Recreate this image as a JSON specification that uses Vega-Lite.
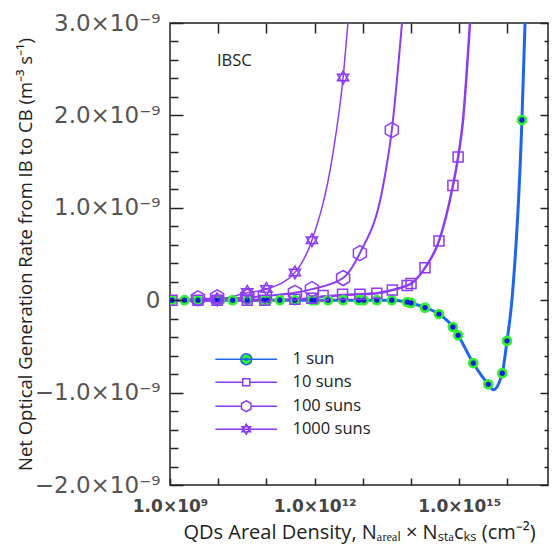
{
  "$schema": "https://vega.github.io/schema/vega-lite/v6.json",
  "width": 378,
  "height": 462,
  "autosize": {"type": "none"},
  "padding": {"left": 170, "top": 23, "right": 7, "bottom": 69},
  "background": "white",
  "datasets": {
    "pts": [
      {"series": "1 sun", "x": 1.1e9, "y": 0},
      {"series": "1 sun", "x": 2.0e9, "y": 0},
      {"series": "1 sun", "x": 3.8e9, "y": 0},
      {"series": "1 sun", "x": 9.0e9, "y": 0},
      {"series": "1 sun", "x": 1.1e10, "y": 0},
      {"series": "1 sun", "x": 2.0e10, "y": 0},
      {"series": "1 sun", "x": 4.0e10, "y": 0},
      {"series": "1 sun", "x": 8.8e10, "y": 0},
      {"series": "1 sun", "x": 1.05e11, "y": 0},
      {"series": "1 sun", "x": 1.9e11, "y": 0},
      {"series": "1 sun", "x": 3.9e11, "y": 0},
      {"series": "1 sun", "x": 8.8e11, "y": 0},
      {"series": "1 sun", "x": 1.05e12, "y": 0},
      {"series": "1 sun", "x": 1.9e12, "y": 0},
      {"series": "1 sun", "x": 3.9e12, "y": 0},
      {"series": "1 sun", "x": 8.2e12, "y": 0},
      {"series": "1 sun", "x": 1.05e13, "y": 0},
      {"series": "1 sun", "x": 1.95e13, "y": 0},
      {"series": "1 sun", "x": 4.0e13, "y": 0},
      {"series": "1 sun", "x": 8.3e13, "y": -2e-11},
      {"series": "1 sun", "x": 1.0e14, "y": -3e-11},
      {"series": "1 sun", "x": 1.95e14, "y": -8e-11},
      {"series": "1 sun", "x": 3.8e14, "y": -1.5e-10},
      {"series": "1 sun", "x": 7.4e14, "y": -2.9e-10},
      {"series": "1 sun", "x": 9.5e14, "y": -3.8e-10},
      {"series": "1 sun", "x": 1.95e15, "y": -6.8e-10},
      {"series": "1 sun", "x": 4.0e15, "y": -9.1e-10},
      {"series": "1 sun", "x": 7.8e15, "y": -7.9e-10},
      {"series": "1 sun", "x": 9.8e15, "y": -4.4e-10},
      {"series": "1 sun", "x": 2.0e16, "y": 1.95e-9},
      {"series": "10 suns", "x": 1.1e9, "y": 0},
      {"series": "10 suns", "x": 3.8e9, "y": 0},
      {"series": "10 suns", "x": 9.5e9, "y": 0},
      {"series": "10 suns", "x": 4.0e10, "y": 0},
      {"series": "10 suns", "x": 9.3e10, "y": 0},
      {"series": "10 suns", "x": 3.9e11, "y": 1e-11},
      {"series": "10 suns", "x": 8.8e11, "y": 2e-11},
      {"series": "10 suns", "x": 1.5e12, "y": 5e-11},
      {"series": "10 suns", "x": 3.8e12, "y": 6.5e-11},
      {"series": "10 suns", "x": 8.7e12, "y": 6.5e-11},
      {"series": "10 suns", "x": 1.95e13, "y": 7.5e-11},
      {"series": "10 suns", "x": 4.1e13, "y": 1.1e-10},
      {"series": "10 suns", "x": 8.3e13, "y": 1.6e-10},
      {"series": "10 suns", "x": 1.0e14, "y": 1.8e-10},
      {"series": "10 suns", "x": 1.95e14, "y": 3.5e-10},
      {"series": "10 suns", "x": 3.8e14, "y": 6.4e-10},
      {"series": "10 suns", "x": 7.4e14, "y": 1.24e-9},
      {"series": "10 suns", "x": 9.5e14, "y": 1.55e-9},
      {"series": "100 suns", "x": 3.8e9, "y": 2e-11},
      {"series": "100 suns", "x": 9.5e9, "y": 3e-11},
      {"series": "100 suns", "x": 4.0e10, "y": 4e-11},
      {"series": "100 suns", "x": 9.3e10, "y": 5e-11},
      {"series": "100 suns", "x": 3.9e11, "y": 8e-11},
      {"series": "100 suns", "x": 8.8e11, "y": 1.2e-10},
      {"series": "100 suns", "x": 3.9e12, "y": 2.4e-10},
      {"series": "100 suns", "x": 8.7e12, "y": 5.1e-10},
      {"series": "100 suns", "x": 4.0e13, "y": 1.84e-9},
      {"series": "1000 suns", "x": 9.5e9, "y": 1e-11},
      {"series": "1000 suns", "x": 4.0e10, "y": 9e-11},
      {"series": "1000 suns", "x": 1.0e11, "y": 1.2e-10},
      {"series": "1000 suns", "x": 3.9e11, "y": 3.0e-10},
      {"series": "1000 suns", "x": 8.8e11, "y": 6.5e-10},
      {"series": "1000 suns", "x": 3.9e12, "y": 2.41e-9}
    ],
    "curve": [
      {"series": "1 sun", "x": 1.0e9, "y": 0},
      {"series": "1 sun", "x": 4.0e13, "y": 0},
      {"series": "1 sun", "x": 8.3e13, "y": -2e-11},
      {"series": "1 sun", "x": 1.0e14, "y": -3e-11},
      {"series": "1 sun", "x": 1.95e14, "y": -8e-11},
      {"series": "1 sun", "x": 3.8e14, "y": -1.5e-10},
      {"series": "1 sun", "x": 7.4e14, "y": -2.9e-10},
      {"series": "1 sun", "x": 9.5e14, "y": -3.8e-10},
      {"series": "1 sun", "x": 1.95e15, "y": -6.8e-10},
      {"series": "1 sun", "x": 4.0e15, "y": -9.1e-10},
      {"series": "1 sun", "x": 5.1e15, "y": -9.7e-10},
      {"series": "1 sun", "x": 7.8e15, "y": -7.9e-10},
      {"series": "1 sun", "x": 9.8e15, "y": -4.4e-10},
      {"series": "1 sun", "x": 1.24e16, "y": 0},
      {"series": "1 sun", "x": 2.0e16, "y": 1.95e-9},
      {"series": "1 sun", "x": 2.32e16, "y": 3.0e-9},
      {"series": "10 suns", "x": 1.0e9, "y": 0},
      {"series": "10 suns", "x": 9.3e10, "y": 0},
      {"series": "10 suns", "x": 3.9e11, "y": 1e-11},
      {"series": "10 suns", "x": 8.8e11, "y": 2e-11},
      {"series": "10 suns", "x": 1.5e12, "y": 4e-11},
      {"series": "10 suns", "x": 3.8e12, "y": 5.5e-11},
      {"series": "10 suns", "x": 8.7e12, "y": 6.5e-11},
      {"series": "10 suns", "x": 1.95e13, "y": 7.5e-11},
      {"series": "10 suns", "x": 4.1e13, "y": 1.1e-10},
      {"series": "10 suns", "x": 8.3e13, "y": 1.6e-10},
      {"series": "10 suns", "x": 1.0e14, "y": 1.8e-10},
      {"series": "10 suns", "x": 1.95e14, "y": 3.5e-10},
      {"series": "10 suns", "x": 3.8e14, "y": 6.4e-10},
      {"series": "10 suns", "x": 7.4e14, "y": 1.24e-9},
      {"series": "10 suns", "x": 9.5e14, "y": 1.55e-9},
      {"series": "10 suns", "x": 1.2e15, "y": 1.95e-9},
      {"series": "10 suns", "x": 1.67e15, "y": 3.0e-9},
      {"series": "100 suns", "x": 1.0e9, "y": 0},
      {"series": "100 suns", "x": 3.8e9, "y": 1e-11},
      {"series": "100 suns", "x": 9.5e9, "y": 2e-11},
      {"series": "100 suns", "x": 4.0e10, "y": 3e-11},
      {"series": "100 suns", "x": 9.3e10, "y": 4.5e-11},
      {"series": "100 suns", "x": 3.9e11, "y": 8e-11},
      {"series": "100 suns", "x": 8.8e11, "y": 1.2e-10},
      {"series": "100 suns", "x": 3.9e12, "y": 2.4e-10},
      {"series": "100 suns", "x": 8.7e12, "y": 5.1e-10},
      {"series": "100 suns", "x": 2.6e13, "y": 1.22e-9},
      {"series": "100 suns", "x": 4.0e13, "y": 1.84e-9},
      {"series": "100 suns", "x": 6.5e13, "y": 3.0e-9},
      {"series": "1000 suns", "x": 1.0e9, "y": 0},
      {"series": "1000 suns", "x": 9.5e9, "y": 1e-11},
      {"series": "1000 suns", "x": 4.0e10, "y": 8e-11},
      {"series": "1000 suns", "x": 1.0e11, "y": 1.2e-10},
      {"series": "1000 suns", "x": 3.9e11, "y": 3.0e-10},
      {"series": "1000 suns", "x": 8.8e11, "y": 6.5e-10},
      {"series": "1000 suns", "x": 2.4e12, "y": 1.59e-9},
      {"series": "1000 suns", "x": 3.9e12, "y": 2.41e-9},
      {"series": "1000 suns", "x": 4.9e12, "y": 3.0e-9}
    ]
  },
  "resolve": {
    "axis": {"x": "independent", "y": "independent"},
    "scale": {"shape": "independent"},
    "legend": {"shape": "independent"}
  },
  "layer": [
    {
      "data": {"name": "curve"},
      "mark": {"type": "line", "interpolate": "monotone", "clip": true},
      "encoding": {
        "x": {
          "field": "x", "type": "quantitative",
          "scale": {"type": "log", "domain": [1e9, 6.95e16], "nice": false},
          "axis": {
            "orient": "bottom", "offset": -7, "domain": false, "grid": false, "zindex": 2,
            "values": [1e9, 1e10, 1e11, 1e12, 1e13, 1e14, 1e15, 1e16],
            "tickSize": 7, "tickColor": "#222", "tickWidth": 1.5,
            "labelExpr": "datum.value == 1e9 ? '1.0×10⁹' : datum.value == 1e12 ? '1.0×10¹²' : datum.value == 1e15 ? '1.0×10¹⁵' : ''",
            "labelFont": "DejaVu Sans", "labelFontSize": 17, "labelFontWeight": "bold", "labelColor": "#444",
            "labelPadding": 13, "labelFlush": false, "labelOverlap": false,
            "title": "QDs Areal Density, Nₐᵣₑₐₗ × Nₛₜₐcₖₛ (cm⁻²)",
            "titleFont": "Open Sans", "titleFontSize": 20, "titleFontWeight": "normal", "titleColor": "#222",
            "titlePadding": 8
          }
        },
        "y": {
          "field": "y", "type": "quantitative",
          "scale": {"domain": [-2e-9, 3e-9], "nice": false, "zero": false},
          "axis": {
            "orient": "left", "offset": -13, "domain": false, "grid": false, "zindex": 2,
            "values": [-2e-9, -1e-9, 0, 1e-9, 2e-9, 3e-9],
            "tickSize": 13, "tickColor": "#222", "tickWidth": 1.5,
            "labelExpr": "datum.value == 0 ? '0' : format(datum.value * 1e9, '.1f') + '×10⁻⁹'",
            "labelFont": "DejaVu Sans", "labelFontSize": 23, "labelColor": "#555",
            "labelPadding": 10, "labelFlush": false, "labelOverlap": false,
            "title": "Net Optical Generation Rate from IB to CB (m⁻³ s⁻¹)",
            "titleFont": "Open Sans", "titleFontSize": 18.5, "titleFontWeight": "normal", "titleColor": "#222",
            "titlePadding": -1
          }
        },
        "color": {
          "field": "series", "type": "nominal",
          "scale": {"domain": ["1 sun", "10 suns", "100 suns", "1000 suns"], "range": ["#1f66ee", "#8e3bf5", "#8e3bf5", "#8e3bf5"]},
          "legend": null
        },
        "strokeWidth": {
          "field": "series", "type": "nominal",
          "scale": {"domain": ["1 sun", "10 suns", "100 suns", "1000 suns"], "range": [3, 1.5, 1.5, 1.5]},
          "legend": null
        }
      }
    },
    {
      "data": {"name": "pts"},
      "transform": [{"filter": "datum.series == '1 sun'"}],
      "mark": {"type": "point", "shape": "circle", "filled": true, "fill": "#33ee33", "opacity": 1, "size": 115, "clip": true},
      "encoding": {
        "x": {
          "field": "x", "type": "quantitative",
          "axis": {
            "orient": "top", "offset": -10, "domain": false, "grid": false, "labels": false, "title": null, "zindex": 2,
            "values": [1e10, 1e11, 1e12, 1e13, 1e14, 1e15, 1e16],
            "tickSize": 10, "tickColor": "#222", "tickWidth": 1.5
          }
        },
        "y": {
          "field": "y", "type": "quantitative",
          "axis": {
            "orient": "left", "offset": -8, "domain": false, "grid": false, "labels": false, "title": null, "zindex": 2,
            "values": [-1.8e-9, -1.6e-9, -1.4e-9, -1.2e-9, -8e-10, -6e-10, -4e-10, -2e-10, 2e-10, 4e-10, 6e-10, 8e-10, 1.2e-9, 1.4e-9, 1.6e-9, 1.8e-9, 2.2e-9, 2.4e-9, 2.6e-9, 2.8e-9],
            "tickSize": 8, "tickColor": "#222", "tickWidth": 1.5
          }
        }
      }
    },
    {
      "data": {"name": "pts"},
      "transform": [{"filter": "datum.series == '1 sun'"}],
      "mark": {"type": "circle", "fill": "#0a1ed8", "opacity": 1, "size": 28, "clip": true},
      "encoding": {
        "x": {"field": "x", "type": "quantitative", "axis": null},
        "y": {
          "field": "y", "type": "quantitative",
          "axis": {
            "orient": "right", "offset": -8, "domain": false, "grid": false, "labels": false, "title": null, "zindex": 2,
            "values": [-2e-9, -1e-9, 0, 1e-9, 2e-9, 3e-9],
            "tickSize": 8, "tickColor": "#222", "tickWidth": 1.5
          }
        }
      }
    },
    {
      "data": {"name": "pts"},
      "transform": [{"filter": "datum.series != '1 sun'"}],
      "mark": {"type": "point", "filled": false, "stroke": "#8e3bf5", "strokeWidth": 1.5, "opacity": 1, "size": 100, "clip": true},
      "encoding": {
        "x": {"field": "x", "type": "quantitative", "axis": null},
        "y": {
          "field": "y", "type": "quantitative",
          "axis": {
            "orient": "right", "offset": -4, "domain": false, "grid": false, "labels": false, "title": null, "zindex": 2,
            "values": [-1.8e-9, -1.6e-9, -1.4e-9, -1.2e-9, -8e-10, -6e-10, -4e-10, -2e-10, 2e-10, 4e-10, 6e-10, 8e-10, 1.2e-9, 1.4e-9, 1.6e-9, 1.8e-9, 2.2e-9, 2.4e-9, 2.6e-9, 2.8e-9],
            "tickSize": 4, "tickColor": "#222", "tickWidth": 1.5
          }
        },
        "shape": {
          "field": "series", "type": "nominal",
          "scale": {
            "domain": ["10 suns", "100 suns", "1000 suns"],
            "range": [
              "M-1,-1H1V1H-1Z",
              "M0,-1.5L1.3,-0.75L1.3,0.75L0,1.5L-1.3,0.75L-1.3,-0.75Z",
              "M0,-1.3L1.126,0.65L-1.126,0.65ZM0,1.3L1.126,-0.65L-1.126,-0.65Z"
            ]
          },
          "legend": null
        }
      }
    },
    {
      "data": {"name": "pts"},
      "transform": [{"filter": "false"}],
      "mark": {"type": "point", "filled": false, "stroke": "#8e3bf5", "strokeWidth": 1.5, "size": 36, "opacity": 1},
      "encoding": {
        "shape": {
          "field": "series", "type": "nominal",
          "scale": {
            "domain": ["1 sun", "10 suns", "100 suns", "1000 suns"],
            "range": [
              "M0,0",
              "M-10.3,0H-1.17M1.17,0H10.3M-1.17,-1.17H1.17V1.17H-1.17Z",
              "M-10.3,0H-1.585M1.585,0H10.3M0,-1.83L1.585,-0.917L1.585,0.917L0,1.83L-1.585,0.917L-1.585,-0.917Z",
              "M-10.3,0H10.3M0,-1.67L1.443,0.833L-1.443,0.833ZM0,1.67L1.443,-0.833L-1.443,-0.833Z"
            ]
          },
          "legend": {
            "orient": "none", "legendX": 68, "legendY": 328, "title": null, "padding": 0,
            "symbolSize": 36, "labelFont": "Open Sans", "labelFontSize": 16.5, "labelColor": "#222",
            "labelOffset": 38, "rowPadding": 6
          }
        }
      }
    },
    {
      "data": {"name": "pts"},
      "transform": [{"filter": "false"}],
      "mark": {"type": "point", "filled": true, "fill": "#33ee33", "stroke": "#1f66ee", "strokeWidth": 3, "size": 36, "opacity": 1},
      "encoding": {
        "shape": {
          "field": "series", "type": "nominal",
          "scale": {
            "domain": ["1 sun"],
            "range": [
              "M-10.3,0H10.3M-1.83,0A1.83,1.83 0 1 0 1.83,0A1.83,1.83 0 1 0 -1.83,0ZM-0.35,0A0.35,0.35 0 1 0 0.35,0A0.35,0.35 0 1 0 -0.35,0Z"
            ]
          },
          "legend": {
            "orient": "none", "legendX": 68, "legendY": 328, "title": null, "padding": 0,
            "symbolSize": 36, "labelFont": "Open Sans", "labelFontSize": 16.5, "labelColor": "#222",
            "labelOpacity": 0, "labelOffset": 38, "rowPadding": 6
          }
        }
      }
    },
    {
      "data": {"values": [{"label": "IBSC"}]},
      "mark": {"type": "text", "align": "left", "baseline": "middle", "font": "Open Sans", "fontSize": 16.5, "color": "#222"},
      "encoding": {
        "x": {"datum": 9.4e9, "type": "quantitative", "axis": null},
        "y": {"datum": 2.59e-9, "type": "quantitative", "axis": null},
        "text": {"field": "label"}
      }
    }
  ],
  "config": {
    "view": {"stroke": "#222", "strokeWidth": 1.5},
    "axis": {"grid": false}
  }
}
